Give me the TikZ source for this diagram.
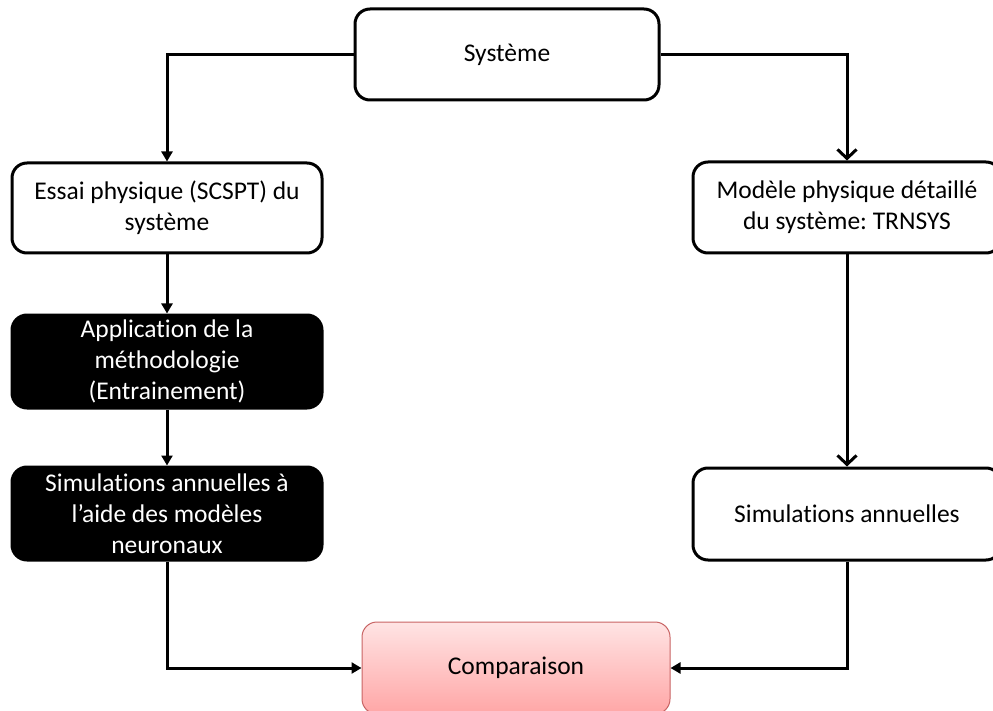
\documentclass[tikz,border=0pt]{standalone}
\usepackage{fontspec}
\setmainfont{Carlito}[Ligatures={NoCommon}]
\frenchspacing
\usetikzlibrary{arrows.meta}
\definecolor{compTop}{HTML}{FFE4E4}
\definecolor{compBot}{HTML}{FFA6A6}
\definecolor{compLine}{HTML}{C86464}
\tikzset{
  box/.style={draw=black, line width=3pt, rounded corners=15pt, align=center,
    font=\fontsize{25.5}{31}\selectfont, inner sep=0pt},
  whitebox/.style={box, fill=white},
  blackbox/.style={box, fill=black, text=white},
  compbox/.style={draw=compLine, line width=1pt, rounded corners=15pt, align=center,
    top color=compTop, bottom color=compBot, font=\fontsize{25.5}{31}\selectfont},
  conn/.style={line width=3pt},
  fillarrow/.style={conn, -{Triangle[length=10pt,width=11pt]}},
  openarrow/.style={conn, -{Straight Barb[length=9pt,width=19pt,line width=3pt]}},
}
\begin{document}
\begin{tikzpicture}[x=1pt,y=-1pt]
\useasboundingbox (0,0) rectangle (993,711);
\node[whitebox, minimum width=304pt, minimum height=91pt] (sys) at (507,54.5) {Système};
\node[whitebox, minimum width=310pt, minimum height=90pt] (essai) at (167,208) {Essai physique (SCSPT) du\\système};
\node[whitebox, minimum width=308pt, minimum height=91pt] (mod) at (847,207.5) {Modèle physique détaillé\\du système: TRNSYS};
\node[blackbox, minimum width=310pt, minimum height=93pt] (app) at (167,361.5) {Application de la\\méthodologie\\(Entrainement)};
\node[blackbox, minimum width=310pt, minimum height=93pt] (simL) at (167,513.5) {Simulations annuelles à\\l’aide des modèles\\neuronaux};
\node[whitebox, minimum width=308pt, minimum height=92pt] (simR) at (847,514) {Simulations annuelles};
\node[compbox, minimum width=308pt, minimum height=92pt] (comp) at (516,668) {Comparaison};
\draw[fillarrow] (sys.west) -| (essai.north);
\draw[openarrow] (sys.east) -| (mod.north);
\draw[fillarrow] (essai.south) -- (app.north);
\draw[fillarrow] (app.south) -- (simL.north);
\draw[openarrow] (mod.south) -- (simR.north);
\draw[fillarrow] (simL.south) |- (comp.west);
\draw[fillarrow] (simR.south) |- (comp.east);
\end{tikzpicture}
\end{document}
